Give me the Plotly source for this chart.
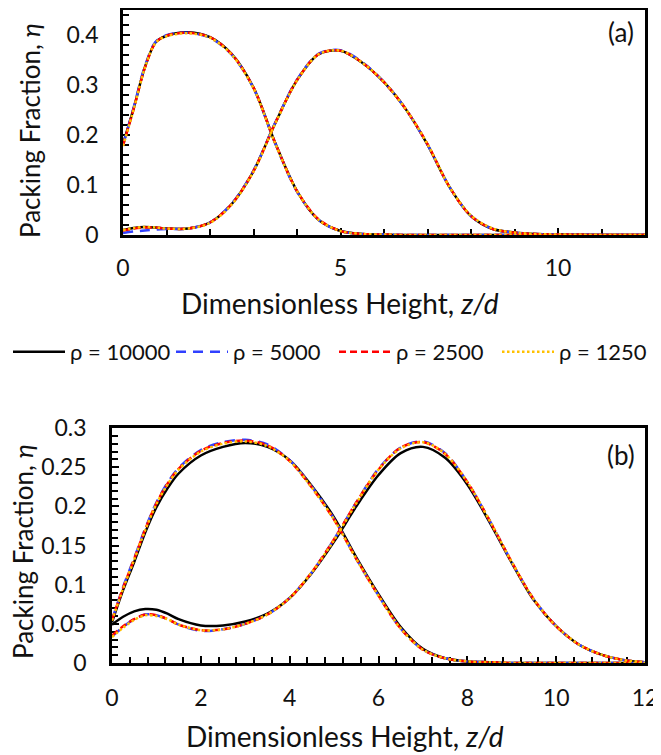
import plotly.graph_objects as go

# page is 661x755; the html body adds an 8px margin, so the figure itself is 653x747
OFF = 8
W, H = 661 - OFF, 755 - OFF

rho_labels = ["ρ = 10000", "ρ = 5000", "ρ = 2500", "ρ = 1250"]

# ---------------- panel (a) ----------------
z_a = [0, 0.25, 0.5, 0.75, 1, 1.5, 2, 2.5, 3, 3.5, 4, 4.5, 5, 5.5, 6, 6.5, 7, 7.5, 8, 8.5, 9, 9.5, 10, 11, 12]

a1_10000 = [0.182, 0.255, 0.335, 0.386, 0.399, 0.406, 0.396, 0.362, 0.295, 0.184, 0.088, 0.030, 0.008, 0.002, 0.001, 0, 0, 0, 0, 0, 0, 0, 0, 0, 0]
a1_5000 = [0.180, 0.257, 0.337, 0.387, 0.400, 0.405, 0.395, 0.361, 0.294, 0.183, 0.087, 0.030, 0.008, 0.002, 0.001, 0, 0, 0, 0, 0, 0, 0, 0, 0, 0]
a1_2500 = [0.179, 0.254, 0.334, 0.385, 0.399, 0.405, 0.396, 0.362, 0.295, 0.184, 0.088, 0.031, 0.008, 0.002, 0.001, 0, 0, 0, 0, 0, 0, 0, 0, 0, 0]
a1_1250 = [0.178, 0.253, 0.334, 0.385, 0.398, 0.404, 0.395, 0.361, 0.294, 0.183, 0.088, 0.030, 0.008, 0.002, 0.001, 0, 0, 0, 0, 0, 0, 0, 0, 0, 0]

a2_10000 = [0.010, 0.014, 0.016, 0.015, 0.013, 0.013, 0.025, 0.062, 0.128, 0.224, 0.310, 0.362, 0.369, 0.345, 0.306, 0.252, 0.181, 0.097, 0.038, 0.012, 0.005, 0.002, 0.001, 0, 0]
a2_5000 = [0.004, 0.007, 0.009, 0.011, 0.012, 0.013, 0.025, 0.063, 0.129, 0.225, 0.311, 0.363, 0.370, 0.346, 0.306, 0.252, 0.181, 0.097, 0.038, 0.012, 0.005, 0.002, 0.001, 0, 0]
a2_2500 = [0.009, 0.013, 0.015, 0.015, 0.013, 0.013, 0.025, 0.062, 0.128, 0.224, 0.310, 0.362, 0.369, 0.345, 0.306, 0.252, 0.182, 0.097, 0.038, 0.012, 0.005, 0.002, 0.001, 0, 0]
a2_1250 = [0.010, 0.014, 0.016, 0.015, 0.013, 0.013, 0.024, 0.061, 0.127, 0.223, 0.309, 0.362, 0.369, 0.345, 0.306, 0.252, 0.182, 0.097, 0.039, 0.013, 0.005, 0.002, 0.001, 0, 0]

# ---------------- panel (b) ----------------
z_b = [0, 0.25, 0.5, 0.75, 1, 1.25, 1.5, 2, 2.5, 3, 3.5, 4, 4.5, 5, 5.5, 6, 6.5, 7, 7.5, 8, 8.5, 9, 9.5, 10, 10.5, 11, 11.5, 12]

b1_10000 = [0.052, 0.093, 0.129, 0.167, 0.199, 0.223, 0.242, 0.265, 0.276, 0.281, 0.276, 0.259, 0.226, 0.186, 0.135, 0.088, 0.046, 0.018, 0.006, 0.002, 0.001, 0, 0, 0, 0, 0, 0, 0]
b1_5000 = [0.055, 0.097, 0.134, 0.172, 0.205, 0.230, 0.249, 0.272, 0.282, 0.285, 0.279, 0.259, 0.225, 0.184, 0.133, 0.086, 0.044, 0.017, 0.006, 0.002, 0.001, 0, 0, 0, 0, 0, 0, 0]
b1_2500 = [0.055, 0.096, 0.133, 0.171, 0.204, 0.229, 0.248, 0.271, 0.281, 0.284, 0.278, 0.258, 0.224, 0.183, 0.133, 0.086, 0.044, 0.017, 0.006, 0.002, 0.001, 0, 0, 0, 0, 0, 0, 0]
b1_1250 = [0.054, 0.095, 0.132, 0.170, 0.203, 0.228, 0.247, 0.270, 0.280, 0.283, 0.277, 0.258, 0.224, 0.183, 0.133, 0.086, 0.044, 0.017, 0.006, 0.002, 0.001, 0, 0, 0, 0, 0, 0, 0]

b2_10000 = [0.049, 0.059, 0.066, 0.069, 0.068, 0.063, 0.056, 0.048, 0.048, 0.053, 0.063, 0.083, 0.115, 0.155, 0.200, 0.240, 0.268, 0.276, 0.262, 0.228, 0.180, 0.128, 0.080, 0.047, 0.024, 0.011, 0.004, 0.001]
b2_5000 = [0.034, 0.046, 0.056, 0.062, 0.061, 0.056, 0.049, 0.041, 0.043, 0.050, 0.062, 0.083, 0.116, 0.158, 0.205, 0.248, 0.275, 0.283, 0.268, 0.231, 0.182, 0.129, 0.081, 0.047, 0.024, 0.011, 0.004, 0.001]
b2_2500 = [0.035, 0.047, 0.056, 0.062, 0.061, 0.056, 0.049, 0.042, 0.043, 0.050, 0.062, 0.083, 0.116, 0.158, 0.205, 0.247, 0.275, 0.282, 0.267, 0.231, 0.182, 0.129, 0.081, 0.047, 0.024, 0.011, 0.004, 0.001]
b2_1250 = [0.033, 0.045, 0.055, 0.061, 0.060, 0.056, 0.049, 0.042, 0.043, 0.050, 0.062, 0.083, 0.116, 0.157, 0.204, 0.247, 0.274, 0.282, 0.267, 0.231, 0.182, 0.129, 0.081, 0.047, 0.024, 0.011, 0.004, 0.001]

x_ticks_a = [0, 5, 10]
x_ticks_b = [0, 2, 4, 6, 8, 10, 12]

colors = ["#000000", "#3040FF", "#FF0000", "#FFC000"]
dashes = ["solid", "10px,7px", "7px,4px", "2.5px,2.5px"]
widths = [2.5, 2.5, 2.5, 2.5]

FONT = "Lato"
TXT = "#111111"

fig = go.Figure()

series_a = [(a1_10000, a2_10000), (a1_5000, a2_5000), (a1_2500, a2_2500), (a1_1250, a2_1250)]
series_b = [(b1_10000, b2_10000), (b1_5000, b2_5000), (b1_2500, b2_2500), (b1_1250, b2_1250)]

for i, lab in enumerate(rho_labels):
    ln = dict(color=colors[i], dash=dashes[i], width=widths[i], shape="spline", smoothing=0.9)
    for k, ys in enumerate(series_a[i]):
        fig.add_trace(go.Scatter(x=z_a, y=ys, mode="lines", line=ln, name=lab,
                                 legendgroup=lab, showlegend=(k == 0),
                                 xaxis="x", yaxis="y"))
    for ys in series_b[i]:
        fig.add_trace(go.Scatter(x=z_b, y=ys, mode="lines", line=ln, name=lab,
                                 legendgroup=lab, showlegend=False,
                                 xaxis="x2", yaxis="y2"))

def px_x(p):
    return min(0.997, max(0.0, (p - OFF) / W))

def px_y(p):
    return min(0.997, max(0.0, 1 - (p - OFF) / H))

axis_common = dict(showline=True, linecolor="black", linewidth=2.5, mirror=True,
                   ticks="inside", ticklen=7, tickwidth=2, tickcolor="black",
                   showgrid=False, zeroline=False, layer="below traces", automargin=False,
                   tickfont=dict(family=FONT, size=23, color=TXT))

fig.update_layout(
    width=W, height=H, autosize=False,
    margin=dict(l=0, r=0, t=0, b=0, autoexpand=False),
    paper_bgcolor="white", plot_bgcolor="rgba(0,0,0,0)",
    font=dict(family=FONT, color=TXT),
    xaxis=dict(domain=[px_x(123), px_x(645)], range=[0, 12], anchor="y",
               tickmode="array", tickvals=x_ticks_a, ticklabelstandoff=11,
               minor=dict(ticks="inside", dtick=1, tick0=0, ticklen=6, tickwidth=2, tickcolor="black"),
               **axis_common),
    yaxis=dict(domain=[px_y(235), px_y(7)], range=[0, 0.45], anchor="x",
               dtick=0.1, tick0=0, ticklabelstandoff=17,
               minor=dict(ticks="inside", dtick=0.02, tick0=0, ticklen=6, tickwidth=2, tickcolor="black"),
               **axis_common),
    xaxis2=dict(domain=[px_x(112), px_x(645)], range=[0, 12.0001], anchor="y2",
                tickmode="array", tickvals=x_ticks_b, ticklabelstandoff=13,
                minor=dict(ticks="inside", dtick=0.4, tick0=0, ticklen=6, tickwidth=2, tickcolor="black"),
                **axis_common),
    yaxis2=dict(domain=[px_y(663), px_y(428)], range=[0, 0.3001], anchor="x2",
                dtick=0.05, tick0=0, ticklabelstandoff=18,
                minor=dict(ticks="inside", dtick=0.01, tick0=0, ticklen=6, tickwidth=2, tickcolor="black"),
                **axis_common),
    legend=dict(orientation="h", x=0, xanchor="left", y=px_y(352), yanchor="middle",
                font=dict(family=FONT, size=22, color=TXT), itemwidth=52,
                entrywidth=96, entrywidthmode="pixels",
                bgcolor="rgba(0,0,0,0)", tracegroupgap=0),
    showlegend=True,
)

ann = []
xt = "Dimensionless Height, <i>z/d</i>"
yt = "Packing Fraction, <i>η</i>"
ann.append(dict(text=xt, x=px_x(340), y=px_y(303), xref="paper", yref="paper",
                xanchor="center", yanchor="middle", showarrow=False,
                font=dict(family=FONT, size=28, color=TXT)))
ann.append(dict(text=xt, x=px_x(345), y=px_y(736), xref="paper", yref="paper",
                xanchor="center", yanchor="middle", showarrow=False,
                font=dict(family=FONT, size=28, color=TXT)))
ann.append(dict(text=yt, x=px_x(30), y=px_y(131), xref="paper", yref="paper",
                xanchor="center", yanchor="middle", showarrow=False, textangle=-90,
                font=dict(family=FONT, size=26, color=TXT)))
ann.append(dict(text=yt, x=px_x(23), y=px_y(552), xref="paper", yref="paper",
                xanchor="center", yanchor="middle", showarrow=False, textangle=-90,
                font=dict(family=FONT, size=26, color=TXT)))
ann.append(dict(text="(a)", x=px_x(621), y=px_y(32), xref="paper", yref="paper",
                xanchor="center", yanchor="middle", showarrow=False,
                font=dict(family=FONT, size=26, color=TXT)))
ann.append(dict(text="(b)", x=px_x(621), y=px_y(455), xref="paper", yref="paper",
                xanchor="center", yanchor="middle", showarrow=False,
                font=dict(family=FONT, size=26, color=TXT)))
fig.update_layout(annotations=ann)

fig.write_html("out.html")
